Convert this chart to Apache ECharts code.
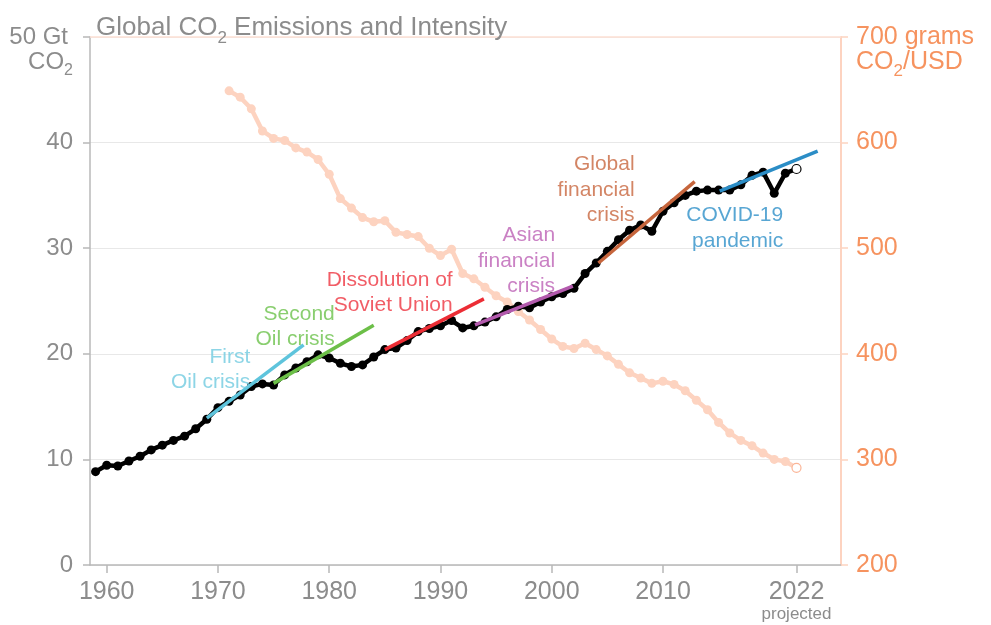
<!DOCTYPE html>
<html>
<head>
<meta charset="utf-8">
<script src="https://cdn.jsdelivr.net/npm/echarts@6/dist/echarts.min.js"></script>
<style>html,body{margin:0;padding:0;background:#fff}#c{width:991px;height:625px}</style>
</head>
<body>
<div id="c"></div>
<script>
// ---- data ----
const emissionYears = [1959,1960,1961,1962,1963,1964,1965,1966,1967,1968,1969,1970,1971,1972,1973,1974,1975,1976,1977,1978,1979,1980,1981,1982,1983,1984,1985,1986,1987,1988,1989,1990,1991,1992,1993,1994,1995,1996,1997,1998,1999,2000,2001,2002,2003,2004,2005,2006,2007,2008,2009,2010,2011,2012,2013,2014,2015,2016,2017,2018,2019,2020,2021,2022];
const emissionValues = [8.84,9.45,9.38,9.85,10.3,10.9,11.35,11.8,12.2,12.9,13.8,14.9,15.5,16.1,16.9,17.15,17.05,18.0,18.65,19.25,19.9,19.6,19.1,18.8,18.95,19.7,20.4,20.55,21.25,22.1,22.4,22.65,23.15,22.45,22.65,23.0,23.5,24.2,24.5,24.35,24.9,25.4,25.7,26.2,27.6,28.6,29.7,30.8,31.7,32.2,31.6,33.5,34.3,35.0,35.4,35.5,35.5,35.5,36.0,36.9,37.2,35.2,37.1,37.5];
const intensityYears = [1971,1972,1973,1974,1975,1976,1977,1978,1979,1980,1981,1982,1983,1984,1985,1986,1987,1988,1989,1990,1991,1992,1993,1994,1995,1996,1997,1998,1999,2000,2001,2002,2003,2004,2005,2006,2007,2008,2009,2010,2011,2012,2013,2014,2015,2016,2017,2018,2019,2020,2021,2022];
const intensityValues = [649,643,632,611,604,602,595,591,584,570,547,538,529,525,526,515,513,511,500,493,499,476,471,463,455,449,440,432,423,414,407,405,410,404,398,390,382,377,372,374,371,365,356,347,335,325,318,313,306,300,298,292];
const projectedYear = 2022;
const xTickValues = [1960,1970,1980,1990,2000,2010,2022];
const leftTicks = [0,10,20,30,40,50];
const rightTicks = [200,300,400,500,600,700];

const eventNames = ['First\nOil crisis','Second\nOil crisis','Dissolution of\nSoviet Union','Asian\nfinancial\ncrisis','Global\nfinancial\ncrisis','COVID-19\npandemic'];
const eventStart = [[1969.0,13.9],[1975.0,17.2],[1985.0,20.4],[1993.1,22.75],[2004.2,28.6],[2015.1,35.4]];
const eventEnd = [[1977.7,20.85],[1984.0,22.7],[1993.9,25.2],[2001.9,26.4],[2012.85,36.3],[2023.9,39.2]];
const eventLabelAt = [[1972.9,18.5],[1980.5,22.55],[1991.1,25.8],[2000.3,28.8],[2007.45,35.5],[2020.8,31.9]];
const eventLineColors = ['#5ec4dc','#6cbf48','#ec2d35','#b35aad','#c6653c','#2b8dc6'];
const eventTextColors = ['#70cbe0','#6cc24b','#ee3540','#bd62b5','#c8673e','#2e90c8'];

// ---- chart ----
const FONT = 'Liberation Sans, Arial, sans-serif';
const GRAY = '#8c8c8c';
const ORANGE = '#f6935f';
const PEACH = '#fdd3c0';

const emissionData = emissionYears.map((y, i) => {
  const d = {value: [y, emissionValues[i]]};
  if (y === projectedYear) d.itemStyle = {color: '#ffffff', borderColor: '#000', borderWidth: 1.2};
  return d;
});
const intensityData = intensityYears.map((y, i) => {
  const d = {value: [y, intensityValues[i]]};
  if (y === projectedYear) d.itemStyle = {color: '#ffffff', borderColor: '#fbb597', borderWidth: 1.2};
  return d;
});

const series = [
  {
    type: 'line', yAxisIndex: 1, data: intensityData, z: 2,
    symbol: 'circle', symbolSize: 9, showAllSymbol: true,
    lineStyle: {color: PEACH, width: 4.5}, itemStyle: {color: PEACH},
    silent: true, animation: false
  },
  {
    type: 'line', yAxisIndex: 0, data: emissionData, z: 3,
    symbol: 'circle', symbolSize: 9, showAllSymbol: true,
    lineStyle: {color: '#000', width: 4.5}, itemStyle: {color: '#000'},
    silent: true, animation: false
  }
];
eventNames.forEach((name, i) => {
  series.push({
    type: 'line', yAxisIndex: 0, z: 4, symbol: 'none',
    data: [eventStart[i], eventEnd[i]],
    lineStyle: {color: eventLineColors[i], width: 3.5},
    silent: true, animation: false
  });
  series.push({
    type: 'scatter', yAxisIndex: 0, z: 5, symbolSize: 0,
    data: [eventLabelAt[i]],
    label: {
      show: true, position: 'left', distance: 0, formatter: name,
      color: eventTextColors[i], fontSize: 21, lineHeight: 25.5, fontFamily: FONT, align: 'right'
    },
    silent: true, animation: false
  });
});

const chart = echarts.init(document.getElementById('c'), null, {renderer: 'canvas'});
chart.setOption({
  animation: false,
  backgroundColor: '#ffffff',
  title: {
    text: 'Global CO{sub|2} Emissions and Intensity',
    left: 91, top: 4,
    textStyle: {color: GRAY, fontSize: 26, fontWeight: 'normal', fontFamily: FONT, rich: {sub: {fontSize: 17, verticalAlign: 'bottom', lineHeight: 38, color: GRAY, fontFamily: FONT}}}
  },
  grid: {left: 90, right: 150, top: 37, bottom: 60},
  xAxis: [
    {
      type: 'value', min: 1958.5, max: 2026, position: 'bottom',
      axisLine: {show: true, lineStyle: {color: '#b8b8b8', width: 1.5}},
      axisTick: {show: true, customValues: xTickValues, length: 8, lineStyle: {color: '#b8b8b8', width: 1.5}},
      axisLabel: {
        customValues: xTickValues, margin: 15, color: GRAY, fontSize: 25, fontFamily: FONT,
        formatter: v => v === projectedYear ? v + '\n{p|projected}' : String(v),
        rich: {p: {fontSize: 17, color: GRAY, fontFamily: FONT, lineHeight: 18}}
      },
      splitLine: {show: false}
    },
    {
      type: 'value', min: 1958.5, max: 2026, position: 'top',
      axisLine: {show: true, lineStyle: {color: '#fde0d3', width: 1.5}},
      axisTick: {show: false}, axisLabel: {show: false}, splitLine: {show: false}
    }
  ],
  yAxis: [
    {
      type: 'value', min: 0, max: 50, interval: 10, position: 'left',
      axisLine: {show: true, lineStyle: {color: '#b8b8b8', width: 1.5}},
      axisTick: {show: true, length: 7, lineStyle: {color: '#b8b8b8', width: 1.5}},
      axisLabel: {
        margin: 17, color: GRAY, fontSize: 24, fontFamily: FONT,
        formatter: v => v === leftTicks[leftTicks.length - 1] ? '{t|' + v + ' Gt}' : String(v),
        rich: {t: {fontSize: 24, color: GRAY, fontFamily: FONT, padding: [0, 5, 0, 0]}}
      },
      splitLine: {show: true, lineStyle: {color: '#e8e8e8', width: 1.2}},
      name: 'CO{sub|2}', nameLocation: 'end', nameGap: -25,
      nameTextStyle: {color: GRAY, fontSize: 24, fontFamily: FONT, align: 'right', verticalAlign: 'middle', padding: [0, 17, 0, 0],
        rich: {sub: {fontSize: 16, verticalAlign: 'bottom', lineHeight: 34, color: GRAY, fontFamily: FONT}}}
    },
    {
      type: 'value', min: 200, max: 700, interval: 100, position: 'right',
      axisLine: {show: true, lineStyle: {color: PEACH, width: 2}},
      axisTick: {show: true, length: 7, lineStyle: {color: PEACH, width: 1.5}},
      axisLabel: {
        margin: 15, color: ORANGE, fontSize: 25, fontFamily: FONT,
        formatter: v => v === rightTicks[rightTicks.length - 1] ? v + ' grams' : String(v)
      },
      splitLine: {show: false},
      name: 'CO{sub|2}/USD', nameLocation: 'end', nameGap: -25,
      nameTextStyle: {color: ORANGE, fontSize: 25, fontFamily: FONT, align: 'left', verticalAlign: 'middle', padding: [0, 0, 0, 15],
        rich: {sub: {fontSize: 17, verticalAlign: 'bottom', lineHeight: 35, color: ORANGE, fontFamily: FONT}}}
    }
  ],
  series: series
});
</script>
</body>
</html>
